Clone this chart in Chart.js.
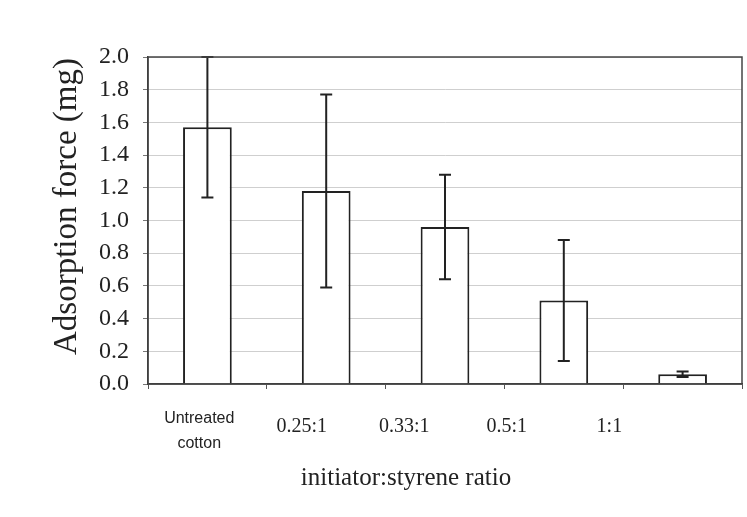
<!DOCTYPE html>
<html>
<head>
<meta charset="utf-8">
<script src="https://cdn.jsdelivr.net/npm/chart.js@4"></script>
<style>
  html, body { margin: 0; padding: 0; background: #fff; }
  #wrap { width: 747px; height: 517px; }
</style>
</head>
<body>
<div id="wrap"><canvas id="forceChart"></canvas></div>
<script>
// Adsorption force by initiator:styrene ratio
const categories = [['Untreated', 'cotton'], '0.25:1', '0.33:1', '0.5:1', '1:1'];
const forceMeans = [1.57, 1.18, 0.96, 0.51, 0.06];
const forceErrors = [0.43, 0.59, 0.32, 0.37, 0.017];
const yTicks = [0, 0.2, 0.4, 0.6, 0.8, 1.0, 1.2, 1.4, 1.6, 1.8, 2.0];

const ink = '#222';
const serif = 'Liberation Serif, Times New Roman, serif';
const sans = 'Liberation Sans, Arial, sans-serif';

// error bars plus the box around the plot area
const errorBars = {
    id: 'errorBars',
    afterDatasetsDraw(chart) {
        const ctx = chart.ctx;
        const yScale = chart.scales.y;
        const meta = chart.getDatasetMeta(0);
        const area = chart.chartArea;
        ctx.save();
        ctx.strokeStyle = ink;
        ctx.lineWidth = 2;
        meta.data.forEach((bar, i) => {
            const x = bar.x;
            const top = yScale.getPixelForValue(Math.min(forceMeans[i] + forceErrors[i], yTicks[yTicks.length - 1]));
            const bottom = yScale.getPixelForValue(forceMeans[i] - forceErrors[i]);
            ctx.beginPath();
            ctx.moveTo(x, top);
            ctx.lineTo(x, bottom);
            ctx.moveTo(x - 6, top);
            ctx.lineTo(x + 6, top);
            ctx.moveTo(x - 6, bottom);
            ctx.lineTo(x + 6, bottom);
            ctx.stroke();
        });
        ctx.lineWidth = 1.5;
        ctx.strokeStyle = '#444';
        ctx.strokeRect(area.left, area.top, area.right - area.left, area.bottom - area.top);
        ctx.restore();
    }
};

// category labels sit on a narrower band than the bars, plus both axis titles
const axisText = {
    id: 'axisText',
    afterDraw(chart) {
        const ctx = chart.ctx;
        const area = chart.chartArea;
        const step = (area.right - area.left) / categories.length * 0.863;
        ctx.save();
        ctx.fillStyle = ink;
        ctx.textAlign = 'center';
        ctx.textBaseline = 'middle';
        categories.forEach((label, i) => {
            const x = area.left + (i + 0.5) * step;
            if (Array.isArray(label)) {
                ctx.font = '16px ' + sans;
                label.forEach((line, j) => ctx.fillText(line, x, area.bottom + 35 + j * 25));
            } else {
                ctx.font = '20px ' + serif;
                ctx.fillText(label, x, area.bottom + 43);
            }
        });
        ctx.font = '25px ' + serif;
        ctx.fillText('initiator:styrene ratio', (area.left + area.right) / 2 - 39, area.bottom + 94);

        ctx.translate(67, (area.top + area.bottom) / 2 - 14);
        ctx.rotate(-Math.PI / 2);
        ctx.font = '33px ' + serif;
        ctx.fillText('Adsorption force (mg)', 0, 0);
        ctx.restore();
    }
};

new Chart(document.getElementById('forceChart').getContext('2d'), {
    type: 'bar',
    data: {
        labels: categories,
        datasets: [{
            label: 'Adsorption force',
            data: forceMeans,
            backgroundColor: '#fff',
            borderColor: ink,
            borderWidth: 2,
            barPercentage: 0.41,
            categoryPercentage: 1.0
        }]
    },
    options: {
        responsive: true,
        maintainAspectRatio: false,
        animation: false,
        layout: { padding: { top: 57, right: 5, left: 0, bottom: 0 } },
        plugins: {
            legend: { display: false },
            tooltip: { enabled: false }
        },
        scales: {
            x: {
                afterFit: scale => { scale.height = 133; },
                grid: {
                    offset: true,
                    drawOnChartArea: false,
                    tickLength: 5,
                    tickColor: '#555'
                },
                border: { display: true, color: '#333', width: 1.5 },
                ticks: { display: false }
            },
            y: {
                min: 0,
                max: 2,
                afterFit: scale => { scale.width = 148; },
                afterBuildTicks: scale => { scale.ticks = yTicks.map(v => ({ value: v })); },
                grid: {
                    color: '#cfcfcf',
                    lineWidth: 1,
                    tickLength: 5,
                    tickColor: '#777'
                },
                border: { display: true, color: '#333', width: 1.5 },
                ticks: {
                    color: ink,
                    padding: 14,
                    font: { family: serif, size: 24 },
                    callback: v => Number(v).toFixed(1)
                }
            }
        }
    },
    plugins: [errorBars, axisText]
});
</script>
</body>
</html>
